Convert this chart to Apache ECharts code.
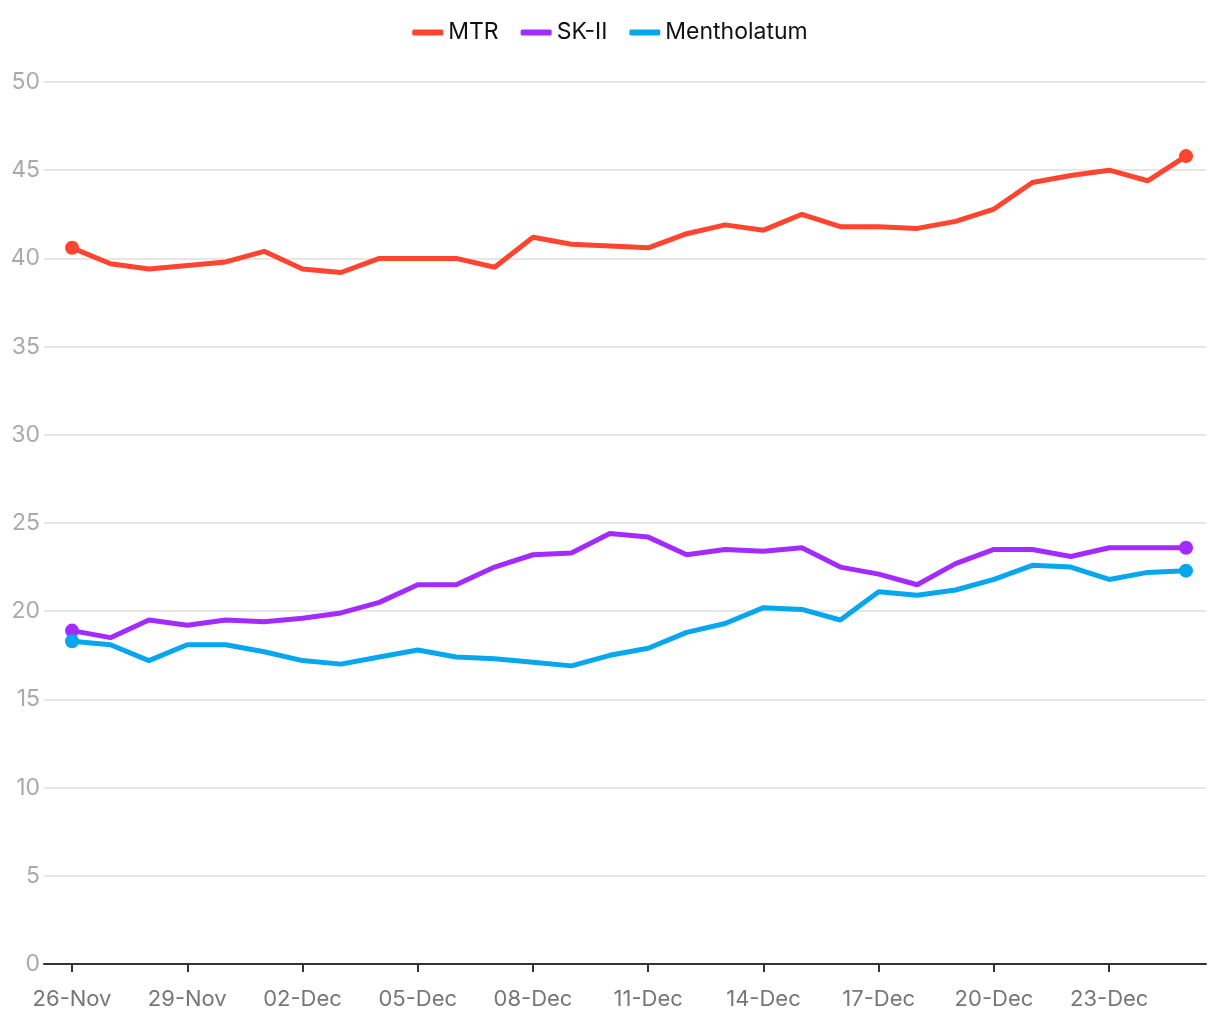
<!DOCTYPE html>
<html>
<head>
<meta charset="utf-8">
<script src="https://cdn.jsdelivr.net/npm/echarts@6/dist/echarts.min.js"></script>
<style>
  html, body { margin: 0; padding: 0; background: #fff; }
  #chart { width: 1220px; height: 1020px; }
</style>
</head>
<body>
<div id="chart"></div>
<script>
  // 日期 26-Nov .. 25-Dec
  var days = [
    "26-Nov", "27-Nov", "28-Nov", "29-Nov", "30-Nov",
    "01-Dec", "02-Dec", "03-Dec", "04-Dec", "05-Dec", "06-Dec", "07-Dec",
    "08-Dec", "09-Dec", "10-Dec", "11-Dec", "12-Dec", "13-Dec", "14-Dec",
    "15-Dec", "16-Dec", "17-Dec", "18-Dec", "19-Dec", "20-Dec", "21-Dec",
    "22-Dec", "23-Dec", "24-Dec", "25-Dec"
  ];
  var mtr = [40.6, 39.7, 39.4, 39.6, 39.8, 40.4, 39.4, 39.2, 40.0, 40.0, 40.0, 39.5,
    41.2, 40.8, 40.7, 40.6, 41.4, 41.9, 41.6, 42.5, 41.8, 41.8, 41.7, 42.1, 42.8,
    44.3, 44.7, 45.0, 44.4, 45.8];
  var skii = [18.9, 18.5, 19.5, 19.2, 19.5, 19.4, 19.6, 19.9, 20.5, 21.5, 21.5, 22.5,
    23.2, 23.3, 24.4, 24.2, 23.2, 23.5, 23.4, 23.6, 22.5, 22.1, 21.5, 22.7, 23.5,
    23.5, 23.1, 23.6, 23.6, 23.6];
  var mentholatum = [18.3, 18.1, 17.2, 18.1, 18.1, 17.7, 17.2, 17.0, 17.4, 17.8, 17.4, 17.3,
    17.1, 16.9, 17.5, 17.9, 18.8, 19.3, 20.2, 20.1, 19.5, 21.1, 20.9, 21.2, 21.8,
    22.6, 22.5, 21.8, 22.2, 22.3];
  var tickIdx = [0, 3, 6, 9, 12, 15, 18, 21, 24, 27];

  function pts(arr) {
    return arr.map(function (v, i) { return [i, v]; });
  }

  function mkSeries(name, arr, color) {
    return {
      name: name,
      type: "line",
      data: pts(arr),
      symbol: "circle",
      // 只在首尾显示圆点
      symbolSize: function (v, p) {
        return (p.dataIndex === 0 || p.dataIndex === arr.length - 1) ? 14 : 0;
      },
      lineStyle: { width: 5, color: color },
      itemStyle: { color: color },
      emphasis: { disabled: true }
    };
  }

  var myChart = echarts.init(document.getElementById("chart"));
  myChart.setOption({
    animation: false,
    textStyle: { fontFamily: "Inter, Roboto, sans-serif" },
    color: ["#ff4530", "#a42bff", "#06a7ef"],
    legend: {
      top: 16,
      left: "center",
      icon: "roundRect",
      itemWidth: 31,
      itemHeight: 6,
      itemGap: 22,
      textStyle: { fontSize: 23, color: "#111" },
      data: ["MTR", "SK-II", "Mentholatum"]
    },
    grid: { left: 44, right: 14, top: 82, bottom: 56, containLabel: false },
    xAxis: {
      type: "value",
      min: -0.73,
      max: 29.52,
      splitLine: { show: false },
      axisLine: { show: true, lineStyle: { color: "#333", width: 2 } },
      axisTick: { show: true, customValues: tickIdx, length: 8, lineStyle: { color: "#333", width: 2 } },
      axisLabel: {
        customValues: tickIdx,
        formatter: function (v) { return days[Math.round(v)]; },
        fontSize: 22,
        color: "#777",
        margin: 24
      }
    },
    yAxis: {
      type: "value",
      min: 0,
      max: 50,
      interval: 5,
      axisLine: { show: false },
      axisTick: { show: false },
      axisLabel: { fontSize: 23, color: "#aaa", margin: 4 },
      splitLine: { lineStyle: { color: "#e6e6e6", width: 2 } }
    },
    series: [
      mkSeries("MTR", mtr, "#ff4530"),
      mkSeries("SK-II", skii, "#a42bff"),
      mkSeries("Mentholatum", mentholatum, "#06a7ef")
    ]
  });
</script>
</body>
</html>
